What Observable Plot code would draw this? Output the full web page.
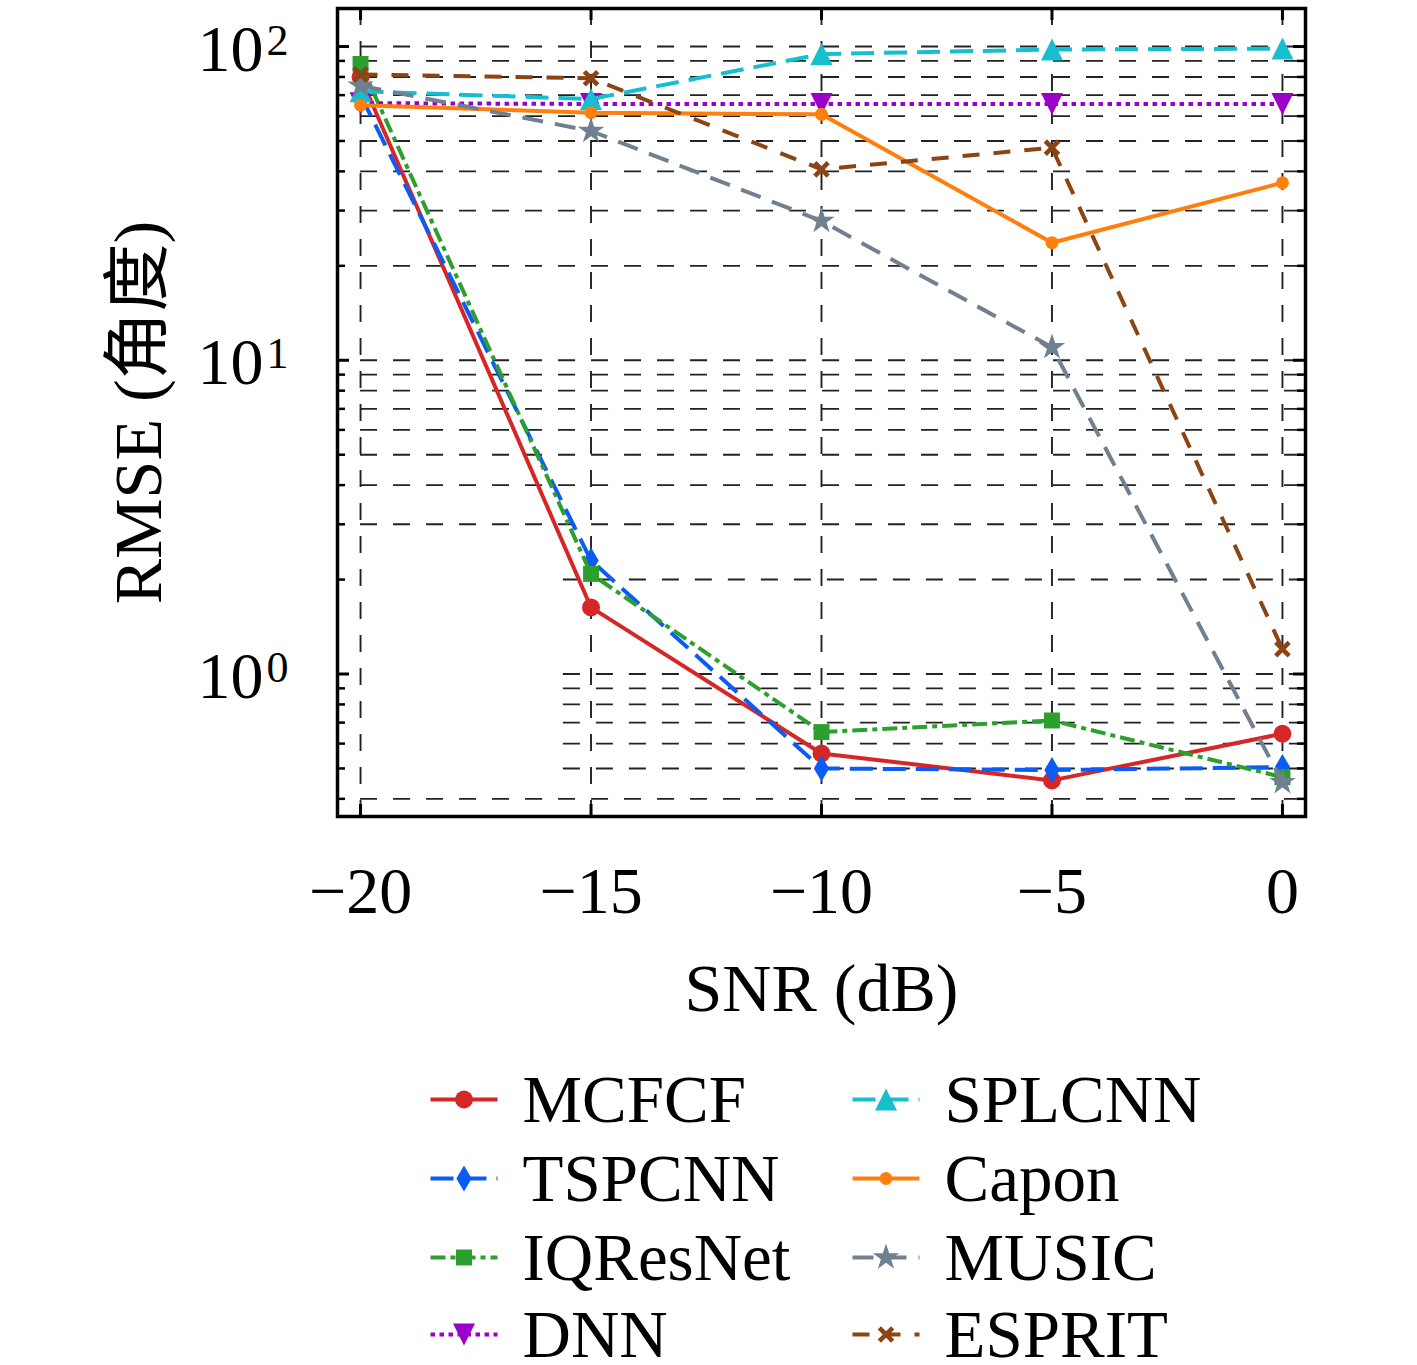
<!DOCTYPE html>
<html><head><meta charset="utf-8">
<script src="https://cdn.jsdelivr.net/npm/d3@7"></script>
<script src="https://cdn.jsdelivr.net/npm/@observablehq/plot@0.6"></script>
<style>
html,body{margin:0;padding:0;background:#fff;}
#chart svg{display:block;}
</style></head><body><div id="chart"></div>
<script>
// ---- data ----
const snr = [-20, -15, -10, -5, 0];
const seriesNames = ["MCFCF", "TSPCNN", "IQResNet", "DNN", "SPLCNN", "Capon", "MUSIC", "ESPRIT"];
const mcfcf    = [80, 1.63, 0.558, 0.458, 0.645];
const tspcnn   = [70, 2.3, 0.50, 0.494, 0.505];
const iqresnet = [88, 2.085, 0.653, 0.711, 0.469];
const dnn      = [66, 65.6, 65.6, 65.6, 65.6];
const splcnn   = [72, 68, 94.6, 97.8, 98.5];
const capon    = [65, 61.5, 60.8, 23.7, 36.8];
const music    = [75, 53.8, 27.8, 11.0, 0.452];
const esprit   = [81.5, 79.2, 40.6, 47.6, 1.20];
const seriesValues = [mcfcf, tspcnn, iqresnet, dnn, splcnn, capon, music, esprit];

const xTicks = [-20, -15, -10, -5, 0];
const xTickLabels = ["\u221220", "\u221215", "\u221210", "\u22125", "0"];
const yMajor = [1, 10, 100];
const yMajorExp = ["0", "1", "2"];
const yMinor = [0.4, 0.5, 0.6, 0.7, 0.8, 0.9, 2, 3, 4, 5, 6, 7, 8, 9, 20, 30, 40, 50, 60, 70, 80, 90];
const gridFull = [0.4, 3, 4, 5, 6, 7, 8, 9, 10, 20, 30, 40, 50, 60, 70, 80, 90, 100];
const gridPartial = [0.5, 0.6, 0.7, 0.8, 0.9, 1, 2];
const xLabel = "SNR (dB)";
const yLabel = "RMSE (角度)";

// ---- symbols ----
const rOf = s => Math.sqrt(s / Math.PI);
const thinDiamond = {draw(c, s) { const r = rOf(s); c.moveTo(0, -1.45 * r); c.lineTo(0.85 * r, 0); c.lineTo(0, 1.45 * r); c.lineTo(-0.85 * r, 0); c.closePath(); }};
const triUp = {draw(c, s) { const r = rOf(s); c.moveTo(0, -r); c.lineTo(r, r); c.lineTo(-r, r); c.closePath(); }};
const triDown = {draw(c, s) { const r = rOf(s); c.moveTo(0, r); c.lineTo(r, -r); c.lineTo(-r, -r); c.closePath(); }};
const filledX = {draw(c, s) {
  const r = rOf(s), L = r * 1.35, T = r * 0.33;
  for (const a of [Math.PI / 4, -Math.PI / 4]) {
    const ca = Math.cos(a), sa = Math.sin(a);
    const pts = [[-L, -T], [L, -T], [L, T], [-L, T]].map(([x, y]) => [x * ca - y * sa, x * sa + y * ca]);
    c.moveTo(pts[0][0], pts[0][1]);
    for (let i = 1; i < 4; i++) c.lineTo(pts[i][0], pts[i][1]);
    c.closePath();
  }
}};

const styles = [
  {color: "#d62728", dash: null, symbol: "circle", r: 9},
  {color: "#0a5cf5", dash: "23,10", symbol: thinDiamond, r: 9},
  {color: "#2ca02c", dash: "15,5,5,5", symbol: "square", r: 9},
  {color: "#9a00c8", dash: "4.5,4.5", symbol: triDown, r: 11},
  {color: "#17becf", dash: "23,10", symbol: triUp, r: 11},
  {color: "#ff7f0e", dash: null, symbol: "circle", r: 6.5},
  {color: "#708090", dash: "21,12", symbol: "star", r: 8.3},
  {color: "#8b4513", dash: "17,14", symbol: filledX, r: 7}
];
const lineW = 4;

// ---- layout ----
const W = 1417, H = 1040;
const mL = 337, mR = 112, mT = 8, mB = 224;
const plotW = W - mL - mR, plotH = H - mT - mB;
const font = "'Liberation Serif', 'Noto Sans CJK SC', serif";
const fs = 66;

const seriesMarks = seriesNames.flatMap((name, i) => {
  const st = styles[i];
  const rows = snr.map((x, j) => ({x, y: seriesValues[i][j]}));
  return [
    Plot.line(rows, {x: "x", y: "y", stroke: st.color, strokeWidth: lineW, strokeDasharray: st.dash, strokeLinecap: "butt"}),
    Plot.dot(rows, {x: "x", y: "y", symbol: st.symbol, r: st.r, fill: st.color, stroke: "none"})
  ];
});

const gridStyle = {stroke: "#222", strokeWidth: 1.9, strokeDasharray: "17,16"};

const chart = Plot.plot({
  width: W, height: H,
  marginLeft: mL, marginRight: mR, marginTop: mT, marginBottom: mB,
  x: {domain: [-20.5, 0.5], axis: null},
  y: {type: "log", domain: [0.3514, 132.2], axis: null},
  style: {fontFamily: font, background: "white", overflow: "visible"},
  marks: [
    Plot.ruleX(xTicks, {x: d => d, ...gridStyle}),
    Plot.ruleY(gridFull, {y: d => d, x1: -20, x2: 0.45, ...gridStyle}),
    Plot.ruleY(gridPartial, {y: d => d, x1: -15.6, x2: 0.45, ...gridStyle}),
    ...seriesMarks,
    // ticks (inward, all four sides)
    Plot.tickY(yMajor, {y: d => d, insetRight: plotW - 12, stroke: "black", strokeWidth: 3}),
    Plot.tickY(yMajor, {y: d => d, insetLeft: plotW - 12, stroke: "black", strokeWidth: 3}),
    Plot.tickY(yMinor, {y: d => d, insetRight: plotW - 8, stroke: "black", strokeWidth: 2.5}),
    Plot.tickY(yMinor, {y: d => d, insetLeft: plotW - 8, stroke: "black", strokeWidth: 2.5}),
    Plot.tickX(xTicks, {x: d => d, insetTop: plotH - 12, stroke: "black", strokeWidth: 3}),
    Plot.tickX(xTicks, {x: d => d, insetBottom: plotH - 12, stroke: "black", strokeWidth: 3}),
    Plot.frame({stroke: "black", strokeWidth: 3.5}),
    // y tick labels 10^n
    Plot.text(yMajor, {y: d => d, text: () => "10", frameAnchor: "left", dx: -74, dy: 24, textAnchor: "end", lineAnchor: "bottom", fontSize: fs, fill: "black"}),
    Plot.text(yMajor, {y: d => d, text: (d, i) => yMajorExp[i], frameAnchor: "left", dx: -71, dy: 8, textAnchor: "start", lineAnchor: "bottom", fontSize: 44, fill: "black"}),
    // x tick labels
    Plot.text(xTicks, {x: d => d, text: (d, i) => xTickLabels[i], frameAnchor: "bottom", dy: 96, lineAnchor: "bottom", textAnchor: "middle", fontSize: fs, fill: "black"}),
    // axis labels
    Plot.text([xLabel], {text: d => d, frameAnchor: "bottom", dy: 194, lineAnchor: "bottom", textAnchor: "middle", fontSize: 68, fill: "black"}),
    Plot.text([yLabel], {text: d => d, frameAnchor: "left", dx: -177, rotate: -90, lineAnchor: "bottom", textAnchor: "middle", fontSize: 68, fill: "black"})
  ]
});

// ---- legend ----
const LH = 1365 - H;
const colX = [430, 852];
const rowY = [59, 138, 217, 294];
const handleW = 67, textGap = 92;
const legendMarks = seriesNames.flatMap((name, i) => {
  const st = styles[i];
  const col = i < 4 ? 0 : 1, row = i % 4;
  const x0 = colX[col], y0 = rowY[row];
  return [
    Plot.link([name], {x1: () => x0, x2: () => x0 + handleW, y1: () => y0, y2: () => y0, stroke: st.color, strokeWidth: lineW, strokeDasharray: st.dash, strokeLinecap: "butt"}),
    Plot.dot([name], {x: () => x0 + handleW / 2, y: () => y0, symbol: st.symbol, r: st.r, fill: st.color, stroke: "none"}),
    Plot.text([name], {x: () => x0 + textGap, y: () => y0, text: d => d, dy: 22, textAnchor: "start", lineAnchor: "bottom", fontSize: 67, fill: "black"})
  ];
});
const legend = Plot.plot({
  width: W, height: LH, margin: 0,
  x: {type: "identity"}, y: {type: "identity"},
  style: {fontFamily: font, background: "white", overflow: "visible"},
  marks: legendMarks
});

document.getElementById("chart").append(chart, legend);
</script></body></html>
